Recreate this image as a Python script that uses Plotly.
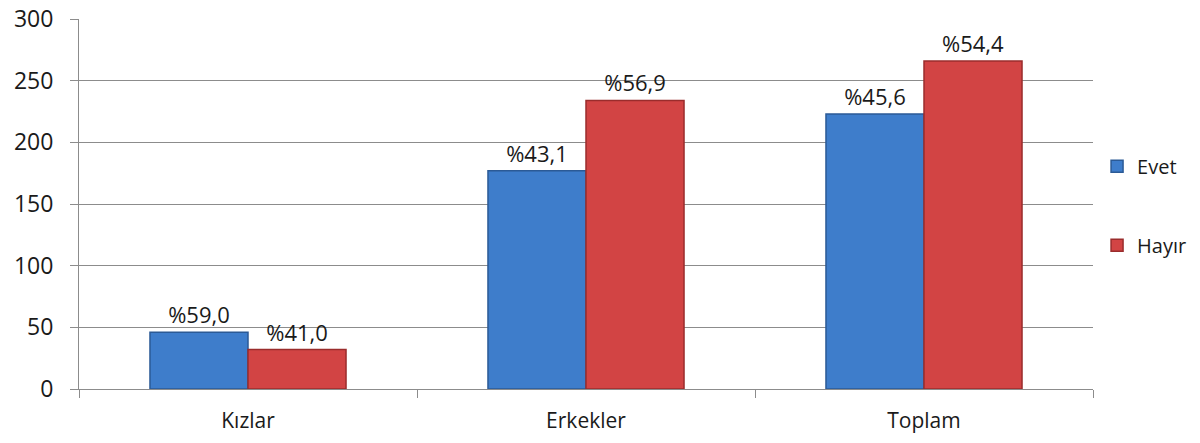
import plotly.graph_objects as go

categories = ["Kızlar", "Erkekler", "Toplam"]
evet = [46, 177, 223]
hayir = [32, 234, 266]
evet_pct = ["%59,0", "%43,1", "%45,6"]
hayir_pct = ["%41,0", "%56,9", "%54,4"]
y_ticks = [0, 50, 100, 150, 200, 250, 300]

font_family = "Open Sans, Liberation Sans, sans-serif"
label_font = dict(size=22, color="#1a1a1a", family=font_family)

fig = go.Figure()
fig.add_trace(go.Bar(
    x=categories, y=evet, name="Evet", legendgroup="evet",
    marker=dict(color="#3E7DCB", line=dict(color="#2B5A96", width=1.5)),
    text=evet_pct, textposition="outside", cliponaxis=False,
    constraintext="none", textfont=label_font,
))
fig.add_trace(go.Bar(
    x=categories, y=hayir, name="Hayır", legendgroup="hayir",
    marker=dict(color="#D24444", line=dict(color="#9A2C2C", width=1.5)),
    text=hayir_pct, textposition="outside", cliponaxis=False,
    constraintext="none", textfont=label_font,
))

fig.update_layout(
    width=1200, height=443,
    margin=dict(l=79, r=107, t=19, b=54, autoexpand=False),
    paper_bgcolor="white", plot_bgcolor="white",
    barmode="group", bargap=0.42, bargroupgap=0,
    font=dict(family=font_family, size=20, color="#1a1a1a"),
    legend=dict(
        x=1.004, y=0.655, xanchor="left", yanchor="top",
        font=dict(size=20, family=font_family),
        traceorder="grouped", tracegroupgap=50,
        itemwidth=30,
    ),
)
fig.update_xaxes(
    showline=True, linecolor="#8c8c8c", linewidth=1,
    ticks="outside", tickson="boundaries", ticklen=8, tickcolor="#8c8c8c",
    tickfont=dict(size=21), showgrid=False, automargin=False,
    ticklabelstandoff=13,
)
fig.update_yaxes(
    range=[0, 300], tickvals=y_ticks,
    showline=True, linecolor="#8c8c8c", linewidth=1,
    ticks="outside", ticklen=8, tickcolor="#8c8c8c",
    showgrid=True, gridcolor="#8c8c8c", gridwidth=1,
    zeroline=False, tickfont=dict(size=23), automargin=False,
    ticklabelstandoff=12,
)

fig.write_html("out.html")
